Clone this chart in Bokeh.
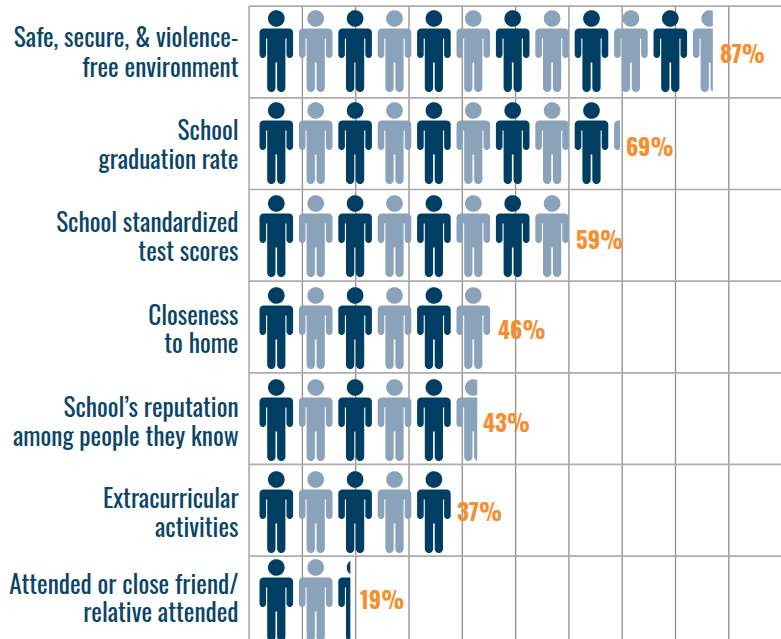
import numpy as np
from bokeh.plotting import figure
from bokeh.core.properties import value
from bokeh.embed import file_html
from bokeh.resources import INLINE

# --- data -----------------------------------------------------------------
label_line1 = ["Safe, secure, & violence-", "School", "School standardized", "Closeness",
               "School\u2019s reputation", "Extracurricular", "Attended or close friend/"]
label_line2 = ["free environment", "graduation rate", "test scores", "to home",
               "among people they know", "activities", "relative attended"]
percents = [87, 69, 59, 46, 43, 37, 19]
# where the drawn row of figures actually stops on the percent axis
icon_extent = [87.0, 69.6, 60.0, 45.4, 42.8, 38.0, 19.0]
grid_ticks = [0, 10, 20, 30, 40, 50, 60, 70, 80, 90, 100]
rows = [0, 1, 2, 3, 4, 5, 6]

DARK = "#003f63"
LIGHT = "#8aa3bb"
ORANGE = "#f68e2e"
TEXT = "#0b4668"

# --- scales: x is percent, y is row number ---------------------------------
X0, XU = 248.6, 5.33        # px of 0 %, px per 1 %
Y0, YU = 5.7, 91.65         # px of row 0 top, px per row
W, H = 781, 639
x_of = lambda px: (np.asarray(px, float) - X0) / XU
y_of = lambda px: (np.asarray(px, float) - Y0) / YU

p = figure(width=W, height=H, output_backend="svg", toolbar_location=None,
           x_range=(float(x_of(0)), float(x_of(W))), y_range=(float(y_of(H)), float(y_of(0))),
           x_axis_location=None, y_axis_location=None, min_border=0,
           outline_line_color=None, background_fill_color="white", border_fill_color="white")
p.xgrid.visible = False
p.ygrid.visible = False
p.styles = {"position": "absolute", "left": "0", "top": "0"}

# --- grid -------------------------------------------------------------------
y_lo, y_hi = float(y_of(H)), 0.0
x_hi = float(x_of(W))
p.segment(x0=grid_ticks[1:], x1=grid_ticks[1:], y0=y_hi, y1=y_lo, line_color="#8f8f8f", line_width=1.3)
p.segment(x0=[0], x1=[0], y0=y_hi, y1=y_lo, line_color="#b9b9b9", line_width=2)
p.segment(x0=0, x1=x_hi, y0=rows, y1=rows, line_color="#adadad", line_width=1.7)


# --- person icon: outline in px, relative to head centre ---------------------
def arc(cx, cy, r, a0, a1, n=10):
    t = np.radians(np.linspace(a0, a1, n))
    return list(zip(cx + r * np.cos(t), cy + r * np.sin(t)))


def body_half():
    pts = [(0.0, 10.0), (12.8, 10.0)]
    pts += arc(12.8, 14.0, 4.0, -90, 0, 6)
    ar = 3.3
    pts += arc(16.8 - ar, 36.2, ar, 0, 180, 10)
    pts += [(10.2, 20.0), (9.1, 20.0)]
    lr = 4.15
    pts += arc(9.1 - lr, 69.4, lr, 0, 180, 10)
    pts += [(0.8, 44.0), (0.0, 44.0)]
    return pts


half = body_half()
bx = np.array([q[0] for q in half] + [-q[0] for q in reversed(half)])
by = np.array([q[1] for q in half] + [q[1] for q in reversed(half)])
ht = np.radians(np.linspace(0, 360, 48))
hx, hy = 8.3 * np.cos(ht), 8.3 * np.sin(ht)

head_centres = [18.0, 110.0, 203.0, 295.0, 387.0, 479.0, 567.0]
FIRST, PITCH = 275.8, 39.4

xs, ys, colors = [], [], []
for r, stop in zip(rows, icon_extent):
    stop_px = X0 + stop * XU
    i = 0
    while FIRST + i * PITCH - 16.8 < stop_px - 0.5:
        cx = FIRST + i * PITCH
        cy = head_centres[r]
        col = DARK if i % 2 == 0 else LIGHT
        for sx, sy in ((bx, by), (hx, hy)):
            px = np.minimum(cx + sx, stop_px)
            if (cx + sx).min() >= stop_px:
                continue
            xs.append(x_of(px).tolist())
            ys.append(y_of(cy + sy).tolist())
            colors.append(col)
        i += 1
p.patches(xs, ys, fill_color=colors, line_color=None)

# --- texts --------------------------------------------------------------------
lab_y1 = [35, 128, 220, 313, 405, 496, 582]
lab_y2 = [65, 157, 249, 341, 434, 525, 610]
pct_left = [719.5, 625.5, 575.5, 497.5, 482.5, 456.5, 359.5]
pct_y = [52.5, 145.5, 238.5, 328.5, 421.5, 510.5, 598.5]
lab_x = float(x_of(238))
font = value("Oswald")
for ly, txt in ((lab_y1, label_line1), (lab_y2, label_line2)):
    p.text(x=[lab_x] * 7, y=y_of(ly).tolist(), text=txt, text_font=font, text_font_size="25.3px",
           text_color=TEXT, text_align="right", text_baseline="middle")
p.text(x=x_of(pct_left).tolist(), y=y_of(pct_y).tolist(), text=[f"{v}%" for v in percents],
       text_font=font, text_font_style="bold", text_font_size="23px", text_color=ORANGE,
       text_align="left", text_baseline="middle")

open("out.html", "w").write(file_html(p, INLINE))
